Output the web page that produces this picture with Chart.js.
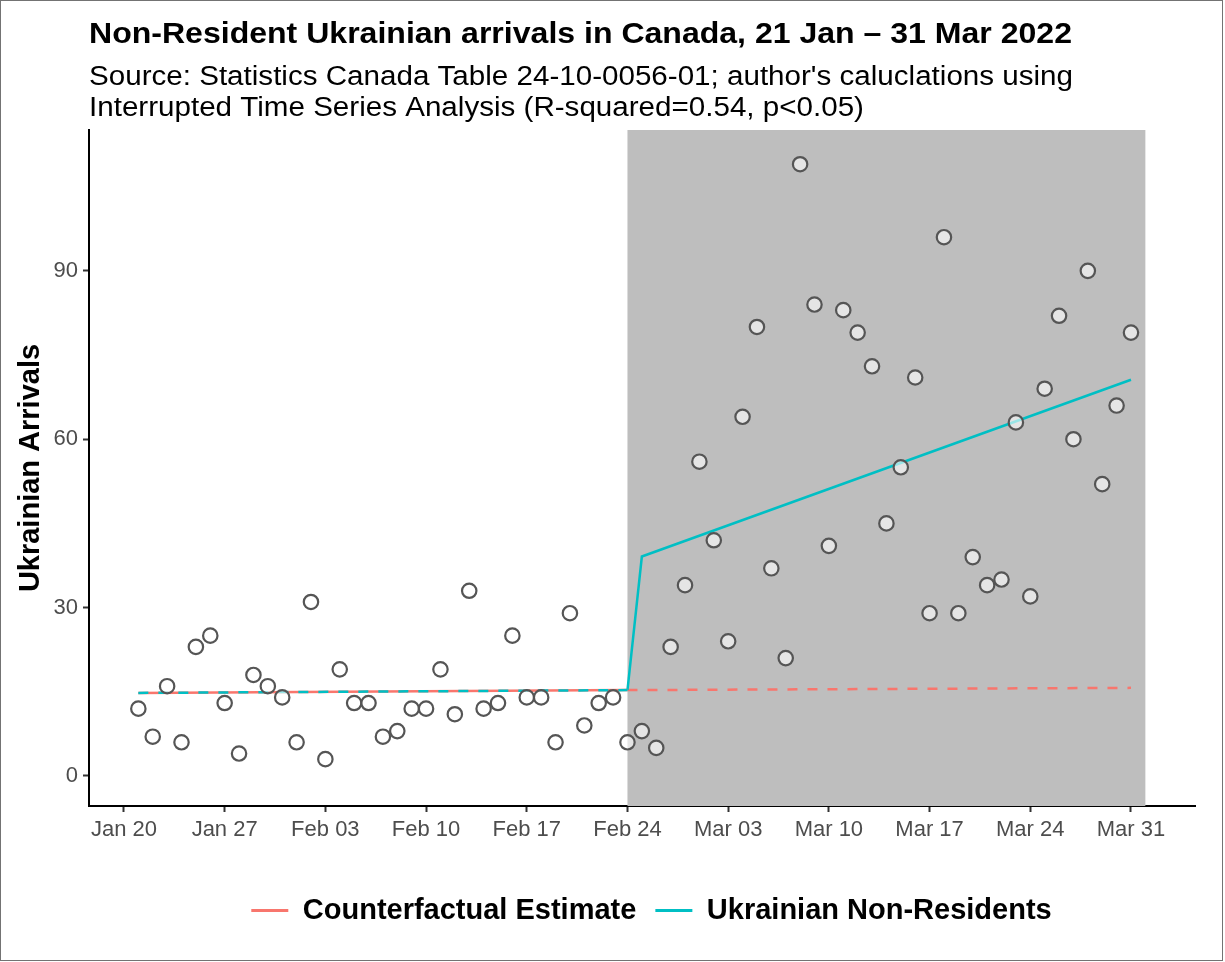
<!DOCTYPE html>
<html>
<head>
<meta charset="utf-8">
<script src="https://cdn.jsdelivr.net/npm/chart.js@4"></script>
<style>
  html, body { margin: 0; padding: 0; background: #fff; }
  #wrap { position: relative; width: 1225px; height: 962px; }
</style>
</head>
<body>
<div id="wrap"><canvas id="c" width="1225" height="962"></canvas></div>
<script>
// ---- Data (x = days since Jan 20, 2022) ----
const firstDay = 1; // Jan 21
const arrivals = [12,7,16,6,23,25,13,4,18,16,14,
  6,31,3,19,13,13,7,8,12,12,19,11,33,12,13,25,14,14,6,29,9,13,14,6,8,5,23,34,
  56,42,24,64,80,37,21,109,84,41,83,79,73,45,55,71,29,96,29,39,34,35,63,32,69,82,60,90,52,66,79];
const cfPreDays = [1, 35];
const cfPreVals = [14.8, 15.3];
const cfPostDays = [35, 70];
const cfPostVals = [15.3, 15.7];
const fitPreDays = [1, 35];
const fitPreVals = [14.8, 15.3];
const fitPostDays = [35, 36, 70];
const fitPostVals = [15.3, 39.1, 70.6];
const shadeDays = [35, 71]; // Feb 24 -> Apr 1
const tickDays = [0, 7, 14, 21, 28, 35, 42, 49, 56, 63, 70];
const tickLabels = ['Jan 20','Jan 27','Feb 03','Feb 10','Feb 17','Feb 24','Mar 03','Mar 10','Mar 17','Mar 24','Mar 31'];
const yTicks = [0, 30, 60, 90];
const titleText = 'Non-Resident Ukrainian arrivals in Canada, 21 Jan \u2013 31 Mar 2022';
const subtitleLines = ["Source: Statistics Canada Table 24-10-0056-01; author's caluclations using",
  'Interrupted Time Series Analysis (R-squared=0.54, p<0.05)'];

const RED = '#F8766D', CYAN = '#00BFC4';
const FONT = "'Liberation Sans', Arial, sans-serif";
const pts = (xs, ys) => xs.map((x, i) => ({x: x, y: ys[i]}));

const shadePlugin = {
  id: 'shade',
  afterLayout(chart) {
    // centre the legend on the plot panel rather than the canvas
    const lg = chart.legend;
    if (lg) { const s = 54; lg.left += s; lg.right += s; }
  },
  beforeDatasetsDraw(chart) {
    const {ctx, chartArea, scales} = chart;
    const x0 = scales.x.getPixelForValue(shadeDays[0]);
    const x1 = scales.x.getPixelForValue(shadeDays[1]);
    ctx.save();
    ctx.fillStyle = '#BEBEBE';
    ctx.fillRect(x0, chartArea.top, x1 - x0, chartArea.bottom - chartArea.top);
    ctx.restore();
  }
};
function drawStretched(ctx, text, x, y, sx) {
  ctx.save();
  ctx.translate(x, y);
  ctx.scale(sx, 1);
  ctx.fillText(text, 0, 0);
  ctx.restore();
}
const textPlugin = {
  id: 'texts',
  afterDraw(chart) {
    const {ctx, chartArea} = chart;
    const L = chartArea.left;
    ctx.save();
    ctx.fillStyle = '#000';
    ctx.textBaseline = 'alphabetic';
    ctx.textAlign = 'left';
    ctx.font = 'bold 30px ' + FONT;
    const tw = ctx.measureText(titleText).width;
    drawStretched(ctx, titleText, L, 42.5, (1072 - L) / tw);
    ctx.font = '27px ' + FONT;
    const sw = ctx.measureText(subtitleLines[0]).width;
    const ss = (1073 - L) / sw;
    drawStretched(ctx, subtitleLines[0], L, 85, ss);
    drawStretched(ctx, subtitleLines[1], L, 116, ss);
    ctx.strokeStyle = '#737373';
    ctx.lineWidth = 1;
    ctx.strokeRect(0.5, 0.5, 1222, 960);
    ctx.restore();
  }
};

new Chart(document.getElementById('c'), {
  type: 'scatter',
  data: {
    datasets: [
      { label: 'Arrivals', data: arrivals.map((v, i) => ({x: firstDay + i, y: v})),
        pointRadius: 7.2, pointHoverRadius: 7.2, pointBorderWidth: 2.2,
        pointBorderColor: '#555555', pointBackgroundColor: 'rgba(255,255,255,0.6)', showLine: false },
      { label: 'fitPre', data: pts(fitPreDays, fitPreVals), showLine: true, pointRadius: 0,
        borderColor: CYAN, borderWidth: 2.5, borderDash: [10, 10] },
      { label: 'Counterfactual Estimate', data: pts(cfPreDays, cfPreVals), showLine: true, pointRadius: 0,
        borderColor: RED, borderWidth: 2.5 },
      { label: 'Ukrainian Non-Residents', data: pts(fitPostDays, fitPostVals), showLine: true, pointRadius: 0,
        borderColor: CYAN, borderWidth: 2.5 },
      { label: 'cfPost', data: pts(cfPostDays, cfPostVals), showLine: true, pointRadius: 0,
        borderColor: RED, borderWidth: 2.5, borderDash: [10, 10] }
    ]
  },
  options: {
    responsive: false,
    animation: false,
    layout: { padding: { top: 130, right: 30, left: 0, bottom: 27 } },
    plugins: {
      tooltip: { enabled: false },
      title: { display: false },
      legend: {
        position: 'bottom',
        labels: {
          font: { family: FONT, size: 29, weight: 'bold' },
          color: '#000',
          boxWidth: 37, boxHeight: 3, padding: 19,
          generateLabels: () => [
            { text: 'Counterfactual Estimate', fillStyle: RED, strokeStyle: RED, lineWidth: 0, hidden: false, datasetIndex: 2 },
            { text: 'Ukrainian Non-Residents', fillStyle: CYAN, strokeStyle: CYAN, lineWidth: 0, hidden: false, datasetIndex: 3 }
          ]
        }
      }
    },
    scales: {
      x: {
        type: 'linear', min: -2.43, max: 74.45,
        afterBuildTicks: (s) => { s.ticks = tickDays.map(v => ({value: v})); },
        afterFit: (s) => { s.height = 71; },
        ticks: { callback: (v) => tickLabels[tickDays.indexOf(v)], color: '#4D4D4D',
                 font: { family: FONT, size: 22 }, padding: 5, maxRotation: 0, autoSkip: false },
        grid: { drawOnChartArea: false, drawTicks: true, tickLength: 6, tickColor: '#333', tickWidth: 2 },
        border: { display: true, color: '#000', width: 2 }
      },
      y: {
        min: -5.35, max: 115.1,
        afterBuildTicks: (s) => { s.ticks = yTicks.map(v => ({value: v})); },
        afterFit: (s) => { s.width = 89; },
        ticks: { color: '#4D4D4D', font: { family: FONT, size: 22 }, padding: 5 },
        grid: { drawOnChartArea: false, drawTicks: true, tickLength: 6, tickColor: '#333', tickWidth: 2 },
        border: { display: true, color: '#000', width: 2 },
        title: { display: true, text: 'Ukrainian Arrivals', color: '#000',
                 font: { family: FONT, size: 29, weight: 'bold' }, padding: { top: 14, bottom: 0 } }
      }
    }
  },
  plugins: [shadePlugin, textPlugin]
});
</script>
</body>
</html>
